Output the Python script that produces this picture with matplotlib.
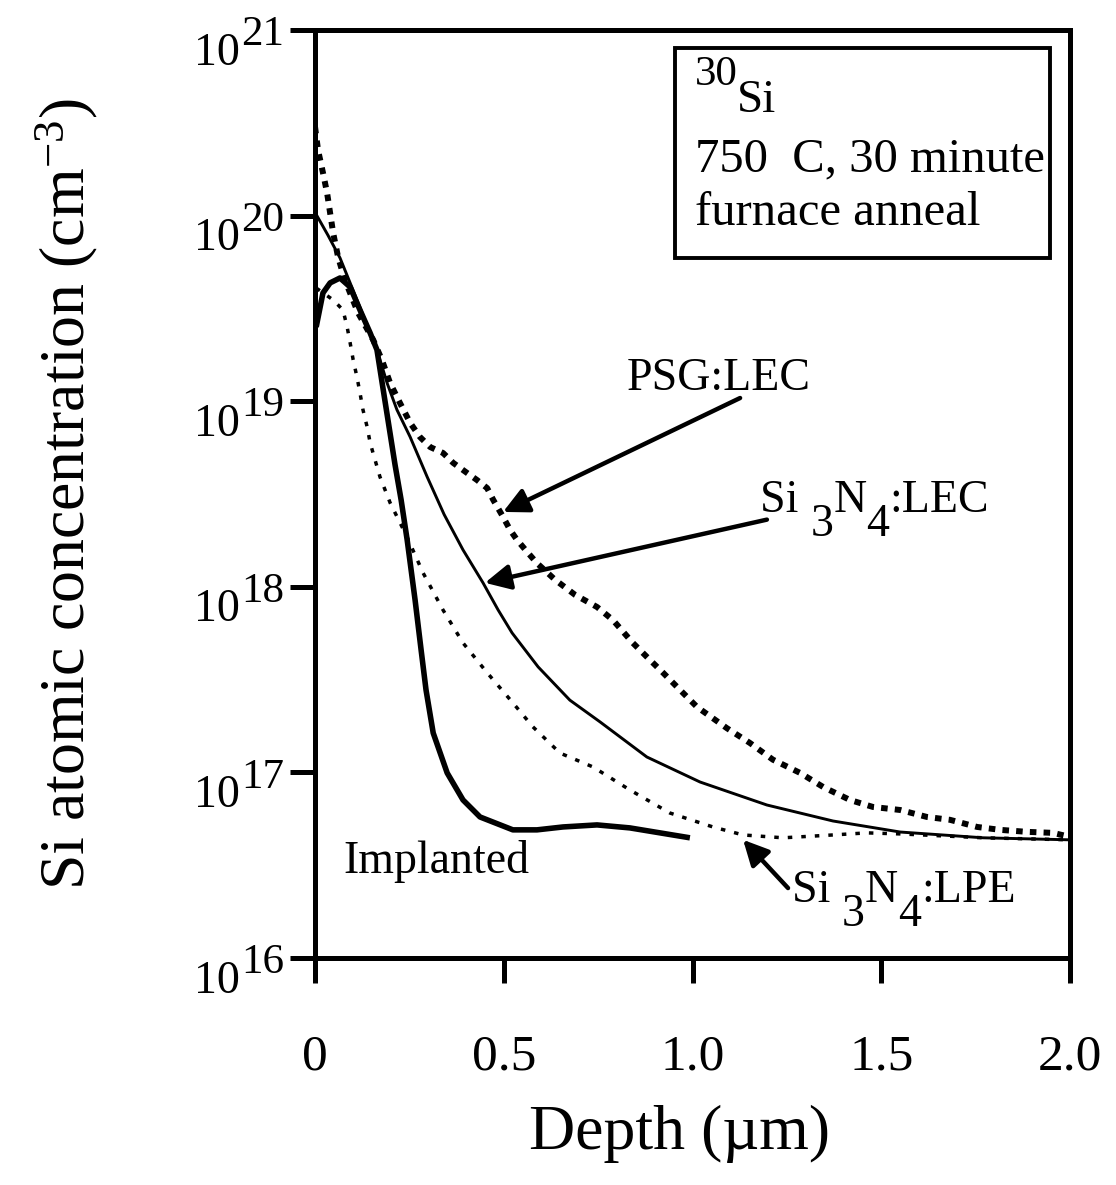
import matplotlib
matplotlib.use('Agg')
import matplotlib.pyplot as plt
from matplotlib.patches import Rectangle

plt.rcParams['font.family'] = ['Liberation Serif', 'DejaVu Serif']
plt.rcParams['mathtext.fontset'] = 'custom'
plt.rcParams['mathtext.rm'] = 'Liberation Serif'
plt.rcParams['mathtext.it'] = 'Liberation Serif:italic'
plt.rcParams['mathtext.default'] = 'regular'

# depth (um) and Si concentration (cm^-3)
implanted_x = [0.003, 0.021, 0.040, 0.066, 0.093, 0.119, 0.146, 0.164, 0.185, 0.212,
               0.228, 0.244, 0.265, 0.281, 0.294, 0.313, 0.350, 0.392, 0.437, 0.524,
               0.588, 0.657, 0.747, 0.834, 0.993]
implanted_y = [2.51e19, 3.83e19, 4.34e19, 4.61e19, 4.12e19, 3.10e19, 2.33e19, 1.89e19,
               1.01e19, 4.53e18, 2.94e18, 1.79e18, 8.49e17, 4.56e17, 2.78e17, 1.63e17,
               9.93e16, 7.10e16, 5.75e16, 4.90e16, 4.90e16, 5.08e16, 5.21e16, 5.02e16,
               4.44e16]

sin_lec_x = [0.0, 0.034, 0.066, 0.106, 0.146, 0.164, 0.191, 0.217, 0.252, 0.297,
             0.342, 0.392, 0.445, 0.485, 0.522, 0.591, 0.675, 0.755, 0.879, 1.020,
             1.197, 1.372, 1.550, 1.770, 2.0]
sin_lec_y = [1.04e20, 7.85e19, 5.92e19, 3.73e19, 2.33e19, 1.89e19, 1.25e19, 8.98e18,
             6.41e18, 3.91e18, 2.45e18, 1.58e18, 1.05e18, 7.50e17, 5.64e17, 3.70e17,
             2.45e17, 1.87e17, 1.21e17, 8.87e16, 6.67e16, 5.47e16, 4.77e16, 4.44e16,
             4.33e16]

psg_lec_x = [0.0, 0.008, 0.021, 0.032, 0.040, 0.048, 0.061, 0.079, 0.114, 0.154,
             0.177, 0.199, 0.225, 0.252, 0.278, 0.305, 0.339, 0.366, 0.403, 0.429,
             0.456, 0.472, 0.498, 0.517, 0.535, 0.562, 0.588, 0.636, 0.689, 0.747,
             0.789, 0.842, 0.879, 0.922, 0.967, 1.012, 1.091, 1.152, 1.213, 1.285,
             1.346, 1.417, 1.478, 1.550, 1.621, 1.682, 1.754, 1.815, 1.886, 1.955, 2.0]
psg_lec_y = [3.00e20, 2.25e20, 1.70e20, 1.32e20, 1.03e20, 8.06e19, 5.98e19, 4.50e19,
             2.99e19, 2.14e19, 1.67e19, 1.25e19, 9.78e18, 7.64e18, 6.41e18, 5.66e18,
             5.26e18, 4.65e18, 4.10e18, 3.76e18, 3.40e18, 2.94e18, 2.38e18, 2.02e18,
             1.79e18, 1.54e18, 1.34e18, 1.09e18, 9.04e17, 7.78e17, 6.62e17, 4.98e17,
             4.19e17, 3.44e17, 2.78e17, 2.25e17, 1.73e17, 1.44e17, 1.17e17, 9.93e16,
             8.34e16, 7.10e16, 6.51e16, 6.27e16, 5.75e16, 5.55e16, 5.08e16, 4.90e16,
             4.78e16, 4.72e16, 4.49e16]

sin_lpe_x = [0.003, 0.048, 0.074, 0.085, 0.093, 0.101, 0.111, 0.119, 0.127, 0.138,
             0.146, 0.159, 0.172, 0.199, 0.244, 0.286, 0.339, 0.392, 0.456, 0.524,
             0.577, 0.649, 0.736, 0.834, 0.940, 1.054, 1.134, 1.240, 1.372, 1.462,
             1.550, 1.770, 2.0]
sin_lpe_y = [4.07e19, 3.51e19, 3.10e19, 2.51e19, 2.06e19, 1.67e19, 1.35e19, 1.11e19,
             8.98e18, 7.26e18, 5.96e18, 4.82e18, 3.91e18, 2.83e18, 1.85e18, 1.19e18,
             7.50e17, 4.98e17, 3.44e17, 2.37e17, 1.76e17, 1.27e17, 1.07e17, 8.04e16,
             6.04e16, 5.08e16, 4.60e16, 4.44e16, 4.60e16, 4.72e16, 4.66e16, 4.44e16,
             4.33e16]

x_ticks = [0, 0.5, 1.0, 1.5, 2.0]
x_tick_labels = ['0', '0.5', '1.0', '1.5', '2.0']
y_ticks = [1e16, 1e17, 1e18, 1e19, 1e20, 1e21]
y_exponents = ['16', '17', '18', '19', '20', '21']

fig = plt.figure(figsize=(11.16, 11.85), dpi=100)
ax = fig.add_axes([0.2823, 0.1916, 0.6765, 0.7831])

ax.plot(implanted_x, implanted_y, color='black', lw=4.0, solid_capstyle='butt')
ax.plot(sin_lec_x, sin_lec_y, color='black', lw=2.1)
ax.plot(psg_lec_x, psg_lec_y, color='black', lw=4.3, linestyle=(0, (1.1, 1.2)))
ax.plot(sin_lpe_x, sin_lpe_y, color='black', lw=2.5, linestyle=(0, (1.3, 2.6)))

ax.set_yscale('log')
ax.set_xlim(0, 2.0)
ax.set_ylim(1e16, 1e21)
ax.set_xticks(x_ticks)
ax.set_xticklabels(x_tick_labels)
ax.set_yticks(y_ticks)
ax.set_yticklabels([])
ax.minorticks_off()

for s in ax.spines.values():
    s.set_linewidth(3.6)
ax.tick_params(axis='both', direction='out', length=18, width=3.6)
ax.tick_params(axis='x', labelsize=37, pad=37)

# y tick labels: "10" with a full-size raised exponent
for v, e in zip(y_ticks, y_exponents):
    ax.annotate('10', (0, v), xycoords=('axes fraction', 'data'), xytext=(-54, -25),
                textcoords='offset points', fontsize=33, ha='right', va='baseline')
    ax.annotate(e, (0, v), xycoords=('axes fraction', 'data'), xytext=(-53, -11),
                textcoords='offset points', fontsize=31, ha='left', va='baseline')

ax.set_xlabel('Depth (\u00b5m)', fontsize=46)
ax.xaxis.set_label_coords(0.483, -0.158)
ax.set_ylabel(r'Si atomic concentration (cm$^{-3}$)', fontsize=46)
ax.yaxis.set_label_coords(-0.285, 0.5)


def chem_label(x, y, parts, size=33):
    # parts: (text, drop in points); digits are set full size and lowered
    renderer = fig.canvas.get_renderer()
    off = 0.0
    for txt, drop in parts:
        t = ax.annotate(txt, (x, y), xytext=(off, -drop), textcoords='offset points',
                        fontsize=size, ha='left', va='baseline')
        off += t.get_window_extent(renderer).width * 72 / fig.dpi


arrow = dict(arrowstyle='-|>', color='black', lw=3.2, mutation_scale=38,
             shrinkA=0, shrinkB=0)
ax.text(0.826, 1.15e19, 'PSG:LEC', fontsize=33, va='baseline', ha='left')
ax.annotate('', xy=(0.498, 2.53e18), xytext=(1.126, 1.04e19), arrowprops=arrow)
chem_label(1.180, 2.53e18, [('Si ', 0), ('3', 17), ('N', 0), ('4', 17), (':LEC', 0)])
ax.annotate('', xy=(0.450, 1.05e18), xytext=(1.197, 2.30e18), arrowprops=arrow)
chem_label(1.264, 2.0e16, [('Si ', 0), ('3', 17), ('N', 0), ('4', 17), (':LPE', 0)])
ax.annotate('', xy=(1.134, 4.33e16), xytext=(1.253, 2.38e16), arrowprops=arrow)
ax.text(0.074, 3.29e16, 'Implanted', fontsize=33, va='center', ha='left')

# info box
ax.add_patch(Rectangle((0.477, 0.754), 0.497, 0.227, transform=ax.transAxes,
                       fill=False, lw=2.8, color='black'))
ax.text(0.503, 0.972, '30', transform=ax.transAxes, fontsize=31, va='top', ha='left')
ax.text(0.559, 0.912, 'Si', transform=ax.transAxes, fontsize=34, va='baseline', ha='left')
ax.text(0.503, 0.847, '750  C, 30 minute', transform=ax.transAxes, fontsize=35,
        va='baseline', ha='left')
ax.text(0.503, 0.790, 'furnace anneal', transform=ax.transAxes, fontsize=35,
        va='baseline', ha='left')

fig.savefig('out.png', dpi=100)
